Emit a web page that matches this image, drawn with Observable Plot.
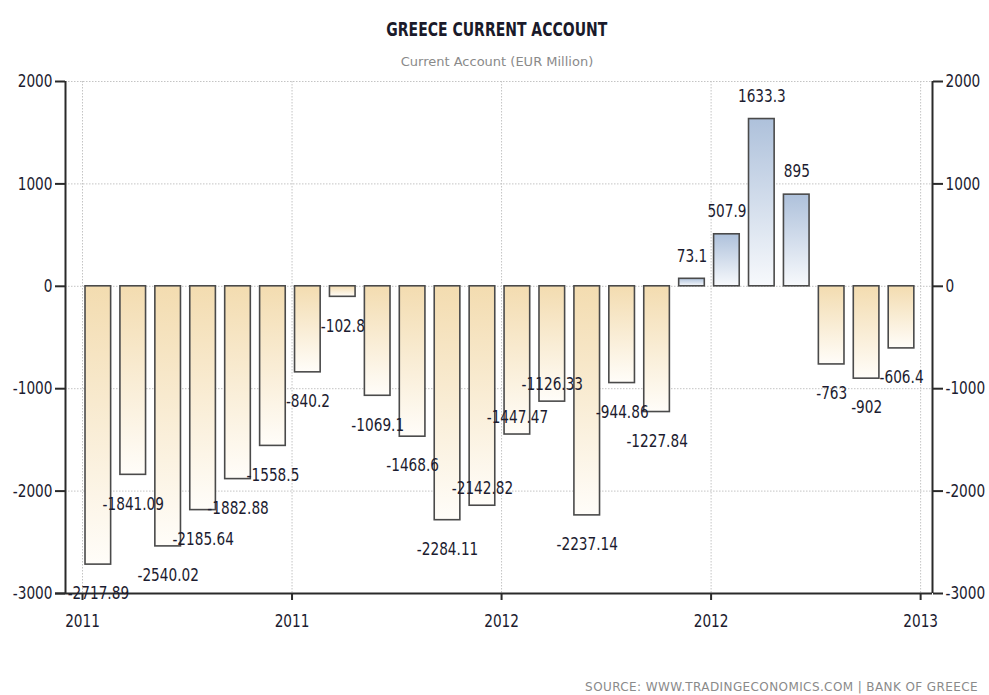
<!DOCTYPE html>
<html>
<head>
<meta charset="utf-8">
<script src="https://cdn.jsdelivr.net/npm/d3@7"></script>
<script src="https://cdn.jsdelivr.net/npm/@observablehq/plot@0.6"></script>
<style>
  html, body { margin: 0; padding: 0; background: #fff; }
  #wrap { position: relative; width: 989px; height: 695px; overflow: hidden; }
  #title { position: absolute; left: 0; width: 994px; top: 17px; text-align: center;
    font-family: "DejaVu Sans", sans-serif; font-weight: bold; font-size: 20px; color: #1a1a2a; }
  #title span { display: inline-block; transform: scaleX(0.70); transform-origin: center; }
  #subtitle { position: absolute; left: 0; width: 994px; top: 54px; text-align: center;
    font-family: "DejaVu Sans", sans-serif; font-size: 13px; color: #8a8a8a; }
  #source { position: absolute; right: 11px; top: 680px;
    font-family: "DejaVu Sans", sans-serif; font-size: 12px; color: #8a8a8a; letter-spacing: 0.4px; }
  #chart { position: absolute; left: 0; top: 0; }
  #chart svg text { font-family: "DejaVu Sans", sans-serif; }
</style>
</head>
<body>
<div id="wrap">
  <div id="chart"></div>
  <div id="title"><span>GREECE CURRENT ACCOUNT</span></div>
  <div id="subtitle">Current Account (EUR Million)</div>
  <div id="source">SOURCE: WWW.TRADINGECONOMICS.COM | BANK OF GREECE</div>
</div>
<script>
// Monthly current account, EUR million (Jan 2011 .. Dec 2012)
const months = ["2011-01","2011-02","2011-03","2011-04","2011-05","2011-06",
                "2011-07","2011-08","2011-09","2011-10","2011-11","2011-12",
                "2012-01","2012-02","2012-03","2012-04","2012-05","2012-06",
                "2012-07","2012-08","2012-09","2012-10","2012-11","2012-12"];
const values = [-2717.89, -1841.09, -2540.02, -2185.64, -1882.88, -1558.5,
                -840.2, -102.8, -1069.1, -1468.6, -2284.11, -2142.82,
                -1447.47, -1126.33, -2237.14, -944.86, -1227.84, 73.1,
                507.9, 1633.3, 895, -763, -902, -606.4];
const xTickPositions = [0, 6, 12, 18, 24];
const xTickLabels = ["2011", "2011", "2012", "2012", "2013"];
const yTicks = [-3000, -2000, -1000, 0, 1000, 2000];

const data = months.map((m, i) => ({month: m, i, value: values[i]}));
// labels the original chart placed above the bar end (collision avoidance)
const labelsRaised = new Set(["2011-12", "2012-01", "2012-02"]);

const pos = data.filter(d => d.value >= 0);
const neg = data.filter(d => d.value < 0);
const negBelow = neg.filter(d => !labelsRaised.has(d.month));
const negAbove = neg.filter(d => labelsRaised.has(d.month));

const xDomain = [-0.487, 24.34];
const yDomain = [-3000, 2000];
const ink = "#1c1c30";
const labelFont = 18;
const axisInk = "#2a2a2a";

const plot = Plot.plot({
  width: 989,
  height: 695,
  marginTop: 81,
  marginBottom: 102,
  marginLeft: 65,
  marginRight: 57,
  x: {type: "linear", domain: xDomain, label: null},
  y: {domain: yDomain, label: null},
  style: {background: "transparent", color: ink, fontSize: "18px"},
  marks: [
    Plot.gridY(yTicks.filter(t => t > yDomain[0]), {stroke: "#c4c4c4", strokeOpacity: 1, strokeDasharray: "1.5,1.5"}),
    Plot.gridX(xTickPositions, {stroke: "#c4c4c4", strokeOpacity: 1, strokeDasharray: "1.5,1.5"}),
    Plot.rect(neg, {x1: "i", x2: d => d.i + 1, y1: 0, y2: "value", insetLeft: 3, insetRight: 6.3,
      fill: "url(#gradNeg)", stroke: "#4a4a4a", strokeWidth: 1.6}),
    Plot.rect(pos, {x1: "i", x2: d => d.i + 1, y1: 0, y2: "value", insetLeft: 3, insetRight: 6.3,
      fill: "url(#gradPos)", stroke: "#4a4a4a", strokeWidth: 1.6}),
    Plot.ruleX([xDomain[0], xDomain[1]], {stroke: axisInk, strokeWidth: 2}),
    Plot.ruleY([yDomain[0]], {stroke: axisInk, strokeWidth: 2, insetLeft: -10}),
    Plot.axisY({anchor: "left", ticks: yTicks, tickSize: 10, tickPadding: 3, fontSize: labelFont,
      tickFormat: d => String(d), strokeWidth: 2, stroke: axisInk, label: null}),
    Plot.axisY({anchor: "right", ticks: yTicks, tickSize: 10, tickPadding: 3, fontSize: labelFont,
      tickFormat: d => String(d), strokeWidth: 2, stroke: axisInk, label: null}),
    Plot.axisX({anchor: "bottom", ticks: xTickPositions, tickSize: 7, tickPadding: 14, fontSize: labelFont,
      tickFormat: d => xTickLabels[xTickPositions.indexOf(d)], strokeWidth: 2, stroke: axisInk, label: null}),
    Plot.text(pos, {x: d => d.i + 0.5, y: "value", text: d => String(d.value), dx: -1.6, dy: -23,
      fill: ink, fontSize: labelFont}),
    Plot.text(negBelow, {x: d => d.i + 0.5, y: "value", text: d => String(d.value), dx: -1.6, dy: 29,
      fill: ink, fontSize: labelFont}),
    Plot.text(negAbove, {x: d => d.i + 0.5, y: "value", text: d => String(d.value), dx: -1.6, dy: -17,
      fill: ink, fontSize: labelFont})
  ]
});

// vertical gradients: coloured at the top of each bar, fading to white at the bottom
const ns = "http://www.w3.org/2000/svg";
const defs = document.createElementNS(ns, "defs");
function addGrad(id, top, bottom) {
  const g = document.createElementNS(ns, "linearGradient");
  g.setAttribute("id", id);
  g.setAttribute("x1", "0"); g.setAttribute("y1", "0");
  g.setAttribute("x2", "0"); g.setAttribute("y2", "1");
  [[0, top], [1, bottom]].forEach(([o, c]) => {
    const s = document.createElementNS(ns, "stop");
    s.setAttribute("offset", o);
    s.setAttribute("stop-color", c);
    g.appendChild(s);
  });
  defs.appendChild(g);
}
addGrad("gradNeg", "#f3dcb0", "#fffdf9");
addGrad("gradPos", "#aec1db", "#f7f9fc");
plot.insertBefore(defs, plot.firstChild);

document.getElementById("chart").appendChild(plot);

// condensed look: narrow every text horizontally about its own anchor x
const squeeze = 0.76;
plot.querySelectorAll("text").forEach(el => {
  const xa = el.getAttribute("x");
  const x = xa && /^-?[\d.]+$/.test(xa.trim()) ? parseFloat(xa) : 0;
  const t = el.getAttribute("transform") || "";
  el.setAttribute("transform", `${t} translate(${x},0) scale(${squeeze},1) translate(${-x},0)`.trim());
});
</script>
</body>
</html>
